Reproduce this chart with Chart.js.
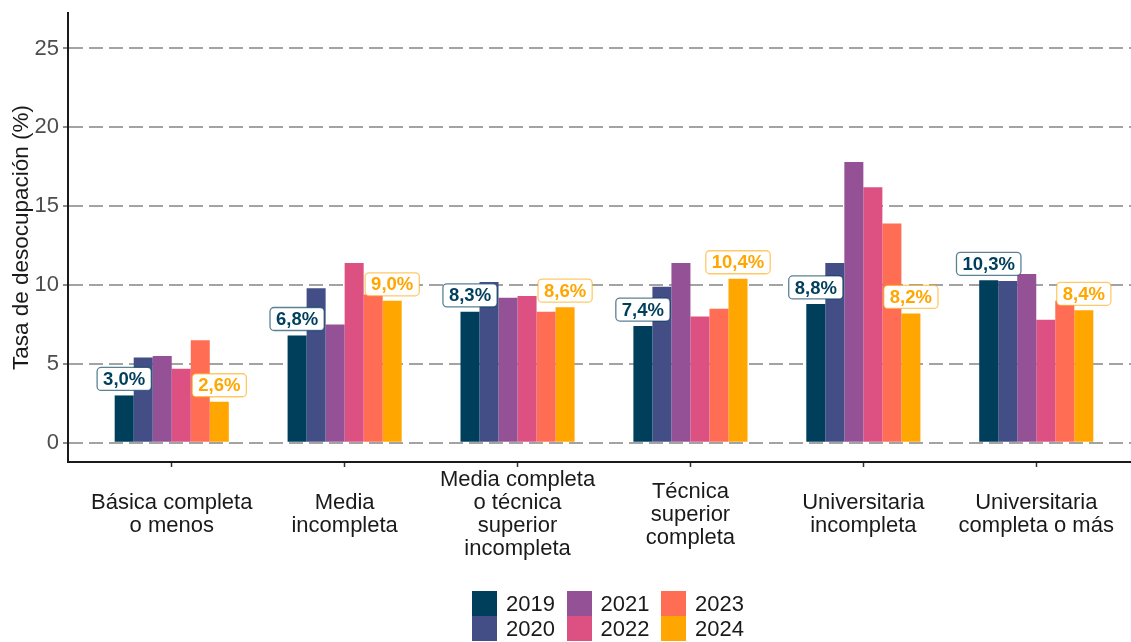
<!DOCTYPE html>
<html lang="es">
<head>
<meta charset="utf-8">
<title>Tasa de desocupación por nivel educativo</title>
<script src="https://cdn.jsdelivr.net/npm/chart.js@4/dist/chart.umd.min.js"></script>
<style>
  html, body { margin: 0; padding: 0; background: #fff; overflow: hidden; }
  #wrap { position: relative; width: 1140px; height: 642px; }
  #leyenda {
    position: absolute; left: 472px; top: 591px;
    display: grid; grid-template-rows: 25px 25px; grid-auto-flow: column;
    grid-auto-columns: 94.5px;
    font-family: "Liberation Sans", Arial, sans-serif; font-size: 22px; color: #1a1a1a;
  }
  #leyenda .item { display: flex; align-items: center; height: 25px; }
  #leyenda .caja { width: 25px; height: 25px; margin-right: 9px; flex: none; }
</style>
</head>
<body>
<div id="wrap">
  <canvas id="grafico"></canvas>
  <div id="leyenda"></div>
</div>
<script>
// ===== datos =====
const categorias = [
  ['Básica completa', 'o menos'],
  ['Media', 'incompleta'],
  ['Media completa', 'o técnica', 'superior', 'incompleta'],
  ['Técnica', 'superior', 'completa'],
  ['Universitaria', 'incompleta'],
  ['Universitaria', 'completa o más']
];
const anios = ['2019', '2020', '2021', '2022', '2023', '2024'];
const tasa2019 = [3.0, 6.8, 8.3, 7.4, 8.8, 10.3];
const tasa2020 = [5.4, 9.8, 10.2, 9.9, 11.4, 10.25];
const tasa2021 = [5.5, 7.5, 9.2, 11.4, 17.8, 10.7];
const tasa2022 = [4.7, 11.4, 9.3, 8.0, 16.2, 7.8];
const tasa2023 = [6.5, 9.4, 8.3, 8.5, 13.9, 9.0];
const tasa2024 = [2.6, 9.0, 8.6, 10.4, 8.2, 8.4];
const ticksY = [0, 5, 10, 15, 20, 25];

const series = [tasa2019, tasa2020, tasa2021, tasa2022, tasa2023, tasa2024];
const colores = ['#003f5c', '#444e86', '#955196', '#dd5182', '#ff6e54', '#ffa600'];
const bordesEtiqueta = ['rgba(0,63,92,0.65)', null, null, null, null, 'rgba(255,166,0,0.6)'];
const conEtiqueta = [0, 5]; // solo 2019 y 2024 llevan etiqueta

const FUENTE = '"Liberation Sans", Arial, sans-serif';

function formatoPct(v) {
  return v.toFixed(1).replace('.', ',') + '%';
}

// etiquetas tipo "label" de ggplot sobre las barras
const etiquetas = {
  id: 'etiquetas',
  afterDatasetsDraw(chart) {
    const ctx = chart.ctx;
    ctx.save();
    ctx.font = 'bold 18.5px ' + FUENTE;
    ctx.textAlign = 'center';
    ctx.textBaseline = 'middle';
    conEtiqueta.forEach(di => {
      const meta = chart.getDatasetMeta(di);
      meta.data.forEach((barra, i) => {
        const txt = formatoPct(series[di][i]);
        const w = ctx.measureText(txt).width + 12;
        const h = 23;
        const x = barra.x - w / 2;
        const y = barra.y - 5 - h;
        ctx.beginPath();
        ctx.roundRect(x, y, w, h, 4);
        ctx.fillStyle = '#fff';
        ctx.fill();
        ctx.lineWidth = 1.3;
        ctx.strokeStyle = bordesEtiqueta[di];
        ctx.stroke();
        ctx.fillStyle = colores[di];
        ctx.fillText(txt, barra.x, y + h / 2 + 1);
      });
    });
    ctx.restore();
  }
};

const datasets = anios.map((anio, k) => ({
  label: anio,
  data: series[k].map((v, i) => ({ x: i, y: v })),
  backgroundColor: colores[k],
  borderWidth: 0,
  categoryPercentage: 0.66,
  barPercentage: 1
}));

const grafico = new Chart(document.getElementById('grafico'), {
  type: 'bar',
  data: { datasets },
  plugins: [etiquetas],
  options: {
    responsive: true,
    maintainAspectRatio: false,
    animation: false,
    layout: { padding: { top: 13, right: 0, left: 0, bottom: 0 } },
    plugins: {
      legend: { display: false },
      tooltip: { enabled: false }
    },
    scales: {
      x: {
        type: 'linear',
        offset: false,
        min: -0.6,
        max: 5.6,
        afterBuildTicks: s => { s.ticks = categorias.map((_, i) => ({ value: i })); },
        afterFit: s => { s.height = 180; s.paddingLeft = 0; s.paddingRight = 0; },
        grid: { offset: false, drawOnChartArea: false, drawTicks: true, tickLength: 5, tickColor: '#333', tickWidth: 1.5 },
        border: { display: true, color: '#1a1a1a', width: 2 },
        ticks: {
          autoSkip: false,
          maxRotation: 0,
          crossAlign: 'center',
          padding: 13,
          color: '#1a1a1a',
          font: { family: FUENTE, size: 22, lineHeight: 1.045 },
          callback: v => categorias[Math.round(v)]
        }
      },
      y: {
        min: -1.22,
        max: 27.25,
        afterBuildTicks: s => { s.ticks = ticksY.map(v => ({ value: v })); },
        afterFit: s => { s.width = 68; s.paddingTop = 0; s.paddingBottom = 0; },
        grid: { color: '#a3a3a3', lineWidth: 2, tickLength: 5, tickColor: '#666', tickWidth: 1.5 },
        border: { display: true, color: '#1a1a1a', width: 2, dash: [14, 6] },
        ticks: {
          padding: 4,
          color: '#4d4d4d',
          font: { family: FUENTE, size: 22 },
          callback: v => String(v)
        },
        title: {
          display: true,
          text: 'Tasa de desocupación (%)',
          color: '#1a1a1a',
          font: { family: FUENTE, size: 22.5, lineHeight: 1.2 },
          padding: { top: 8.5, bottom: 0 }
        }
      }
    }
  }
});

// leyenda en 3 columnas x 2 filas, ordenada por columna como en el original
const leyenda = document.getElementById('leyenda');
grafico.data.datasets.forEach(ds => {
  const item = document.createElement('div');
  item.className = 'item';
  item.innerHTML = `<span class="caja" style="background:${ds.backgroundColor}"></span><span>${ds.label}</span>`;
  leyenda.appendChild(item);
});
</script>
</body>
</html>
